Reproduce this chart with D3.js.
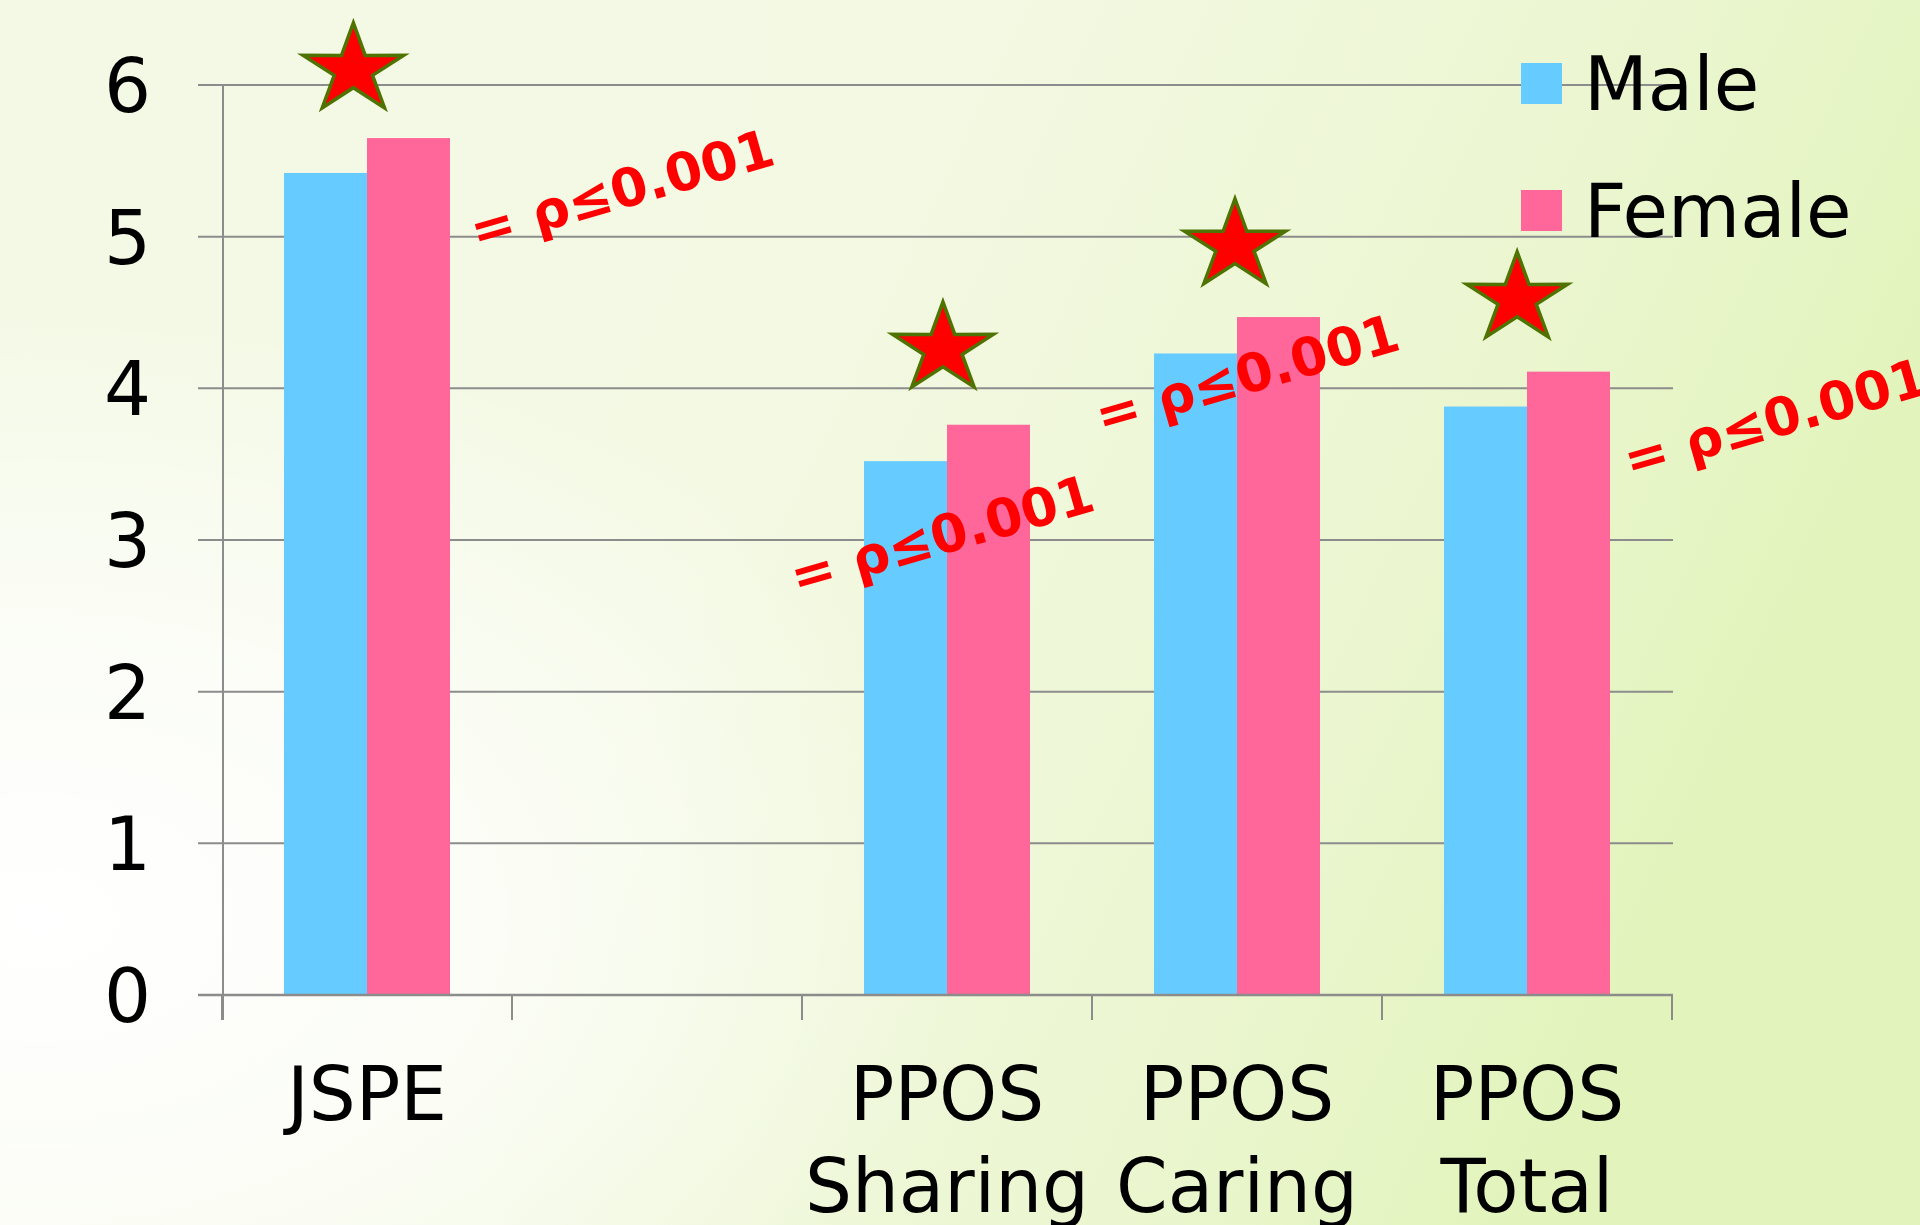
<!DOCTYPE html>
<html>
<head>
<meta charset="utf-8">
<script src="https://cdn.jsdelivr.net/npm/d3@7/dist/d3.min.js"></script>
<style>
  html, body { margin: 0; padding: 0; background: #fff; }
  svg { display: block; }
</style>
</head>
<body>
<div id="chart"></div>
<script>
// Mean scores by sex
const categories = ["JSPE", "", "PPOS Sharing", "PPOS Caring", "PPOS Total"];
const categoryLines = [["JSPE"], [], ["PPOS", "Sharing"], ["PPOS", "Caring"], ["PPOS", "Total"]];
const series = ["Male", "Female"];
const maleValues = [5.42, null, 3.52, 4.23, 3.88];
const femaleValues = [5.65, null, 3.76, 4.47, 4.11];
const yTicks = [0, 1, 2, 3, 4, 5, 6];

// Significance markers: category, position within band, value level
const starCats = ["JSPE", "PPOS Sharing", "PPOS Caring", "PPOS Total"];
const starBandFrac = [0.453, 0.486, 0.493, 0.466];
const starLevels = [6.10, 4.26, 4.94, 4.59];
const pText = "= \u03c1\u22640.001";
const pBandFrac = [0.878, -0.018, 0.034, 0.855];
const pLevels = [4.91, 2.63, 3.69, 3.40];

const W = 1920, H = 1225;
const colors = { Male: "#66ccff", Female: "#ff6699" };
const gridColor = "#8c8c8c";
const font = "'DejaVu Sans', Verdana, sans-serif";
const labelSize = 74;

const svg = d3.select("#chart").append("svg")
  .attr("width", W).attr("height", H);

// Background wash
const defs = svg.append("defs");
const lg = defs.append("linearGradient").attr("id", "bgLin")
  .attr("x1", 0).attr("y1", 0).attr("x2", 1).attr("y2", 0.3);
lg.append("stop").attr("offset", "0%").attr("stop-color", "#f4f9e6");
lg.append("stop").attr("offset", "45%").attr("stop-color", "#f4f9e4");
lg.append("stop").attr("offset", "80%").attr("stop-color", "#ebf6d0");
lg.append("stop").attr("offset", "100%").attr("stop-color", "#e2f4bc");
const rg = defs.append("radialGradient").attr("id", "bgGlow")
  .attr("cx", 0.02).attr("cy", 0.75).attr("r", 0.5);
rg.append("stop").attr("offset", "0%").attr("stop-color", "#ffffff").attr("stop-opacity", 1);
rg.append("stop").attr("offset", "45%").attr("stop-color", "#ffffff").attr("stop-opacity", 0.7);
rg.append("stop").attr("offset", "100%").attr("stop-color", "#ffffff").attr("stop-opacity", 0);
svg.append("rect").attr("width", W).attr("height", H).attr("fill", "url(#bgLin)");
svg.append("rect").attr("width", W).attr("height", H).attr("fill", "url(#bgGlow)");

// Scales
const x = d3.scaleBand().domain(categories).range([222, 1672]).paddingInner(0).paddingOuter(0);
const xs = d3.scaleBand().domain(series).range([0, x.bandwidth()]).paddingInner(0).paddingOuter(0.747);
const y = d3.scaleLinear().domain([0, 6]).range([995, 85]);
const axisX = 223;
const plotRight = 1673;

// Gridlines with outward ticks
svg.append("g").selectAll("line").data(yTicks).join("line")
  .attr("x1", axisX - 25).attr("x2", plotRight)
  .attr("y1", d => y(d)).attr("y2", d => y(d))
  .attr("stroke", gridColor).attr("stroke-width", 2);

// Y axis line
svg.append("line").attr("x1", axisX).attr("x2", axisX)
  .attr("y1", y(6)).attr("y2", y(0) + 25)
  .attr("stroke", gridColor).attr("stroke-width", 2);

// Y tick labels
svg.append("g").selectAll("text").data(yTicks).join("text")
  .attr("x", 151).attr("y", d => y(d) + 27)
  .attr("text-anchor", "end")
  .attr("font-family", font).attr("font-size", labelSize).attr("fill", "#000")
  .text(d => d);

// X category boundary ticks
const bounds = categories.map(c => x(c)).concat([x.range()[1]]);
svg.append("g").selectAll("line").data(bounds).join("line")
  .attr("x1", d => d).attr("x2", d => d)
  .attr("y1", y(0)).attr("y2", y(0) + 25)
  .attr("stroke", gridColor).attr("stroke-width", 2);

// Bars
const rows = categories.map((c, i) => ({ cat: c, Male: maleValues[i], Female: femaleValues[i] }));
const barG = svg.append("g");
rows.forEach(r => {
  series.forEach(s => {
    if (r[s] == null) return;
    barG.append("rect")
      .attr("x", x(r.cat) + xs(s))
      .attr("y", y(r[s]))
      .attr("width", xs.bandwidth())
      .attr("height", y(0) - y(r[s]))
      .attr("fill", colors[s]);
  });
});

// Baseline over bars
svg.append("line").attr("x1", axisX - 25).attr("x2", plotRight)
  .attr("y1", y(0)).attr("y2", y(0))
  .attr("stroke", gridColor).attr("stroke-width", 2.5);

// Category labels
const catG = svg.append("g");
categories.forEach((c, i) => {
  const t = catG.append("text")
    .attr("x", x(c) + x.bandwidth() / 2)
    .attr("y", 1120)
    .attr("text-anchor", "middle")
    .attr("font-family", font).attr("font-size", labelSize).attr("fill", "#000");
  categoryLines[i].forEach((ln, j) => {
    t.append("tspan").attr("x", x(c) + x.bandwidth() / 2)
      .attr("dy", j === 0 ? 0 : 92).text(ln);
  });
});

// Stars
function starPoints(rx, ry, ratio) {
  const pts = [];
  for (let k = 0; k < 10; k++) {
    const a = -Math.PI / 2 + k * Math.PI / 5;
    const rr = k % 2 === 0 ? 1 : ratio;
    pts.push([Math.cos(a) * rr * rx, Math.sin(a) * rr * ry]);
  }
  return pts.map(p => p.join(",")).join(" ");
}
const starG = svg.append("g");
starCats.forEach((c, i) => {
  starG.append("polygon")
    .attr("points", starPoints(53, 47, 0.38))
    .attr("transform", `translate(${x(c) + starBandFrac[i] * x.bandwidth()},${y(starLevels[i])})`)
    .attr("fill", "#ff0000")
    .attr("stroke", "#4f7300")
    .attr("stroke-width", 3.5)
    .attr("stroke-linejoin", "miter");
});

// p-value annotations
const pG = svg.append("g");
starCats.forEach((c, i) => {
  const px = x(c) + pBandFrac[i] * x.bandwidth();
  const py = y(pLevels[i]);
  pG.append("text")
    .attr("transform", `translate(${px},${py}) rotate(-16)`)
    .attr("font-family", font).attr("font-weight", "bold")
    .attr("font-size", 53).attr("fill", "#ff0000")
    .text(pText);
});

// Legend
const legG = svg.append("g");
series.forEach((s, i) => {
  legG.append("rect").attr("x", 1521).attr("y", 63 + i * 127)
    .attr("width", 41).attr("height", 41).attr("fill", colors[s]);
  legG.append("text").attr("x", 1584).attr("y", 110 + i * 127)
    .attr("font-family", font).attr("font-size", labelSize).attr("fill", "#000")
    .text(s);
});
</script>
</body>
</html>
